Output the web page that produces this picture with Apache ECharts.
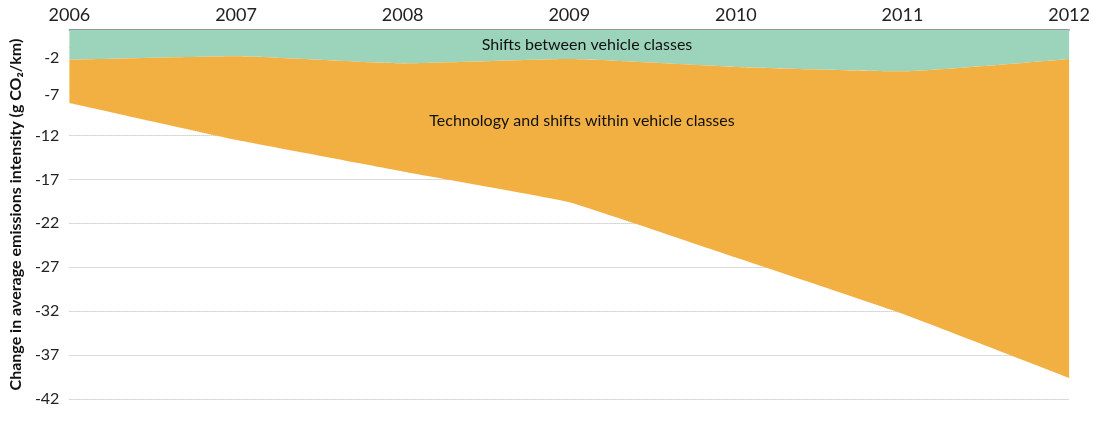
<!DOCTYPE html>
<html>
<head>
<meta charset="utf-8">
<script src="https://cdn.jsdelivr.net/npm/echarts@6/dist/echarts.min.js"></script>
<style>
  html, body { margin: 0; padding: 0; background: #fff; }
  #chart { width: 1093px; height: 427px; }
</style>
</head>
<body>
<div id="chart"></div>
<script>
// years along the top axis
var years = ['2006', '2007', '2008', '2009', '2010', '2011', '2012'];
// change from shifts between vehicle classes (g CO2/km)
var shiftsBetween = [-3.4, -3.0, -3.8, -3.3, -4.2, -4.7, -3.3];
// change from technology and shifts within classes (g CO2/km)
var technology = [-4.9, -9.5, -12.3, -16.3, -21.7, -27.6, -36.3];
// y tick labels shown
var yTicks = [-2, -7, -12, -17, -22, -27, -32, -37, -42];

var chart = echarts.init(document.getElementById('chart'));

var option = {
  animation: false,
  grid: { left: 67, right: 22, top: 30, bottom: 28 },
  xAxis: {
    type: 'category',
    position: 'top',
    boundaryGap: false,
    data: years,
    axisLine: { show: true, lineStyle: { color: '#777', width: 1.5 } },
    axisTick: { show: false },
    axisLabel: {
      color: '#222',
      fontFamily: 'Lato',
      fontSize: 18,
      margin: 6
    },
    splitLine: { show: false }
  },
  yAxis: {
    type: 'value',
    min: -42,
    max: 0,
    interval: 5,
    name: 'Change in average emissions intensity (g CO\u2082/km)',
    nameLocation: 'middle',
    nameGap: 43,
    nameTextStyle: {
      color: '#111',
      fontFamily: 'Lato',
      fontWeight: 'bold',
      fontSize: 16
    },
    axisLine: { show: false },
    axisTick: { show: false },
    axisLabel: {
      showMaxLabel: false,
      color: '#222',
      fontFamily: 'Lato',
      fontSize: 16,
      margin: 10,
      formatter: function (v) {
        if (yTicks.indexOf(v) < 0) return '';
        if (v === -2) return '{low|' + v + '}';
        if (v === -7) return '{mid|' + v + '}';
        return '' + v;
      },
      rich: {
        low: { color: '#222', fontFamily: 'Lato', fontSize: 16, padding: [20, 0, 0, 0] },
        mid: { color: '#222', fontFamily: 'Lato', fontSize: 16, padding: [6, 0, 0, 0] }
      }
    },
    splitLine: {
      show: true,
      lineStyle: { color: '#b5b5b5', type: [1, 1], width: 1 }
    }
  },
  series: [
    {
      name: 'Shifts between vehicle classes',
      type: 'line',
      stack: 'total',
      data: shiftsBetween,
      smooth: 0.15,
      symbol: 'none',
      lineStyle: { width: 0 },
      areaStyle: { color: '#9bd4bb', opacity: 1 },
      z: 3
    },
    {
      name: 'Technology and shifts within vehicle classes',
      type: 'line',
      stack: 'total',
      data: technology,
      smooth: 0.1,
      symbol: 'none',
      lineStyle: { width: 0 },
      areaStyle: { color: '#f2b043', opacity: 1 },
      z: 3
    }
  ],
  graphic: [
    {
      type: 'text',
      x: 587,
      y: 45,
      z: 10,
      style: {
        text: 'Shifts between vehicle classes',
        fill: '#111',
        font: '16px Lato',
        textAlign: 'center',
        textVerticalAlign: 'middle'
      }
    },
    {
      type: 'text',
      x: 582,
      y: 121,
      z: 10,
      style: {
        text: 'Technology and shifts within vehicle classes',
        fill: '#111',
        font: '16px Lato',
        textAlign: 'center',
        textVerticalAlign: 'middle'
      }
    }
  ]
};

chart.setOption(option);
</script>
</body>
</html>
